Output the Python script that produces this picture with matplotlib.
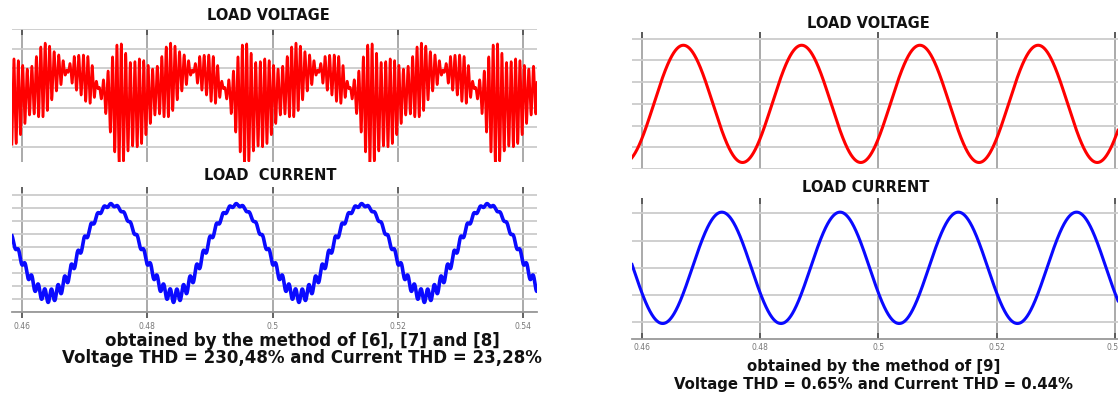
import numpy as np
import matplotlib.pyplot as plt

# x axis (time, s)
tick_pos = [0.46, 0.48, 0.50, 0.52, 0.54]
tick_txt = ['0.46', '0.48', '0.5', '0.52', '0.54']
f_line = 50.0   # supply frequency, period 0.02 s

# left: method of [6],[7],[8]  (values in grid units)
# slow part of the voltage: dc, cos, sin of the 50 Hz term (phase from t = 0.46)
lv_slow = [0.02, -0.524, 0.705]
# envelope of the switching ripple: dc, cos1, sin1, cos2, sin2
lv_env = [1.14, 1.557, -0.578, -0.96, -0.16]
lv_hf = [1400.0, 1650.0]       # ripple frequencies, Hz
lv_hf_amp = [0.9, 0.15]
# current: dc, amplitude, time of first peak, ripple (dc, swing, peak phase), ripple Hz
li_dc, li_amp, li_peak = 4.73, 3.5, 0.4743
li_rip = [0.3, 0.2, 0.25]
li_hf = 950.0

# right: method of [9]
rv_amp, rv_peak = 2.7, 0.4670
ri_amp, ri_peak = 2.05, 0.4735

t_left = np.linspace(0.45845, 0.54218, 24000)
t_right = np.linspace(0.45831, 0.54051, 4000)

w = 2 * np.pi * f_line
th = w * (t_left - 0.46)
slow = lv_slow[0] + lv_slow[1] * np.cos(th) + lv_slow[2] * np.sin(th)
env = (lv_env[0] + lv_env[1] * np.cos(th) + lv_env[2] * np.sin(th)
       + lv_env[3] * np.cos(2 * th) + lv_env[4] * np.sin(2 * th))
carrier = sum(a * np.sin(2 * np.pi * f * t_left + k) for k, (f, a) in enumerate(zip(lv_hf, lv_hf_amp)))
left_v = slow + env * carrier

rip = li_rip[0] + li_rip[1] * np.cos(th - 2 * np.pi * li_rip[2])
left_i = li_dc + li_amp * np.cos(w * (t_left - li_peak)) - rip * np.cos(2 * np.pi * li_hf * t_left)

right_v = rv_amp * np.cos(w * (t_right - rv_peak))
right_i = ri_amp * np.cos(w * (t_right - ri_peak))

W, H = 1118, 394
fig = plt.figure(figsize=(W / 100, H / 100), dpi=100)


def box(x0, y0, x1, y1):
    # pixel box (top-left origin) -> figure fraction
    return [x0 / W, 1 - y1 / H, (x1 - x0) / W, (y1 - y0) / H]


def style(ax, yt, xl, yl, labels=False):
    ax.set_xlim(*xl)
    ax.set_ylim(*yl)
    for s in ax.spines.values():
        s.set_visible(False)
    ax.set_yticks(yt)
    ax.tick_params(axis='y', length=0, labelleft=False)
    ax.set_xticks(tick_pos)
    ax.set_xticklabels(tick_txt if labels else [])
    ax.grid(True, axis='y', color='#cccccc', lw=1.3)
    ax.grid(True, axis='x', color='#aaaaaa', lw=1.4)
    ax.set_axisbelow(True)
    ax.tick_params(axis='x', top=True, bottom=labels, direction='in', length=4,
                   color='#555555', width=1.3, labelsize=5.5, labelcolor='#777777', pad=3)
    if labels:
        ax.spines['bottom'].set_visible(True)
        ax.spines['bottom'].set_color('#999999')
        ax.spines['bottom'].set_linewidth(1.3)


ax1 = fig.add_axes(box(12, 29, 537, 162))
ax1.plot(t_left, left_v, color='#ff0000', lw=1.8)
style(ax1, [-3, -2, -1, 0, 1, 2, 3], (t_left[0], t_left[-1]), (-3.76, 3.0))

ax2 = fig.add_axes(box(12, 193, 537, 312))
ax2.plot(t_left, left_i, color='#0a0aff', lw=2.6)
style(ax2, range(10), (t_left[0], t_left[-1]), (0, 9.15), labels=True)
ax2.tick_params(axis='x', direction='out')

ax3 = fig.add_axes(box(632, 32, 1118, 169))
ax3.plot(t_right, right_v, color='#ff0000', lw=2.2)
style(ax3, [-3, -2, -1, 0, 1, 2, 3], (t_right[0], t_right[-1]), (-3.0, 3.31))

ax4 = fig.add_axes(box(632, 198, 1118, 339))
ax4.plot(t_right, right_i, color='#0a0aff', lw=2.2)
style(ax4, [-2, -1, 0, 1, 2], (t_right[0], t_right[-1]), (-2.62, 2.57), labels=True)


def label(x, y, s, size):
    fig.text(x / W, 1 - y / H, s, ha='center', va='center', fontsize=size,
             fontweight='bold', family='DejaVu Sans', color='#111111')


label(268, 16, 'LOAD VOLTAGE', 10.5)
label(270, 176, 'LOAD  CURRENT', 10.5)
label(302, 341, 'obtained by the method of [6], [7] and [8]', 12)
label(302, 358, 'Voltage THD = 230,48% and Current THD = 23,28%', 12)
label(868, 24, 'LOAD VOLTAGE', 10.5)
label(866, 187, 'LOAD CURRENT', 10.5)
label(874, 367, 'obtained by the method of [9]', 10.7)
label(874, 385, 'Voltage THD = 0.65% and Current THD = 0.44%', 10.7)

fig.savefig('out.png', dpi=100, facecolor='white')
